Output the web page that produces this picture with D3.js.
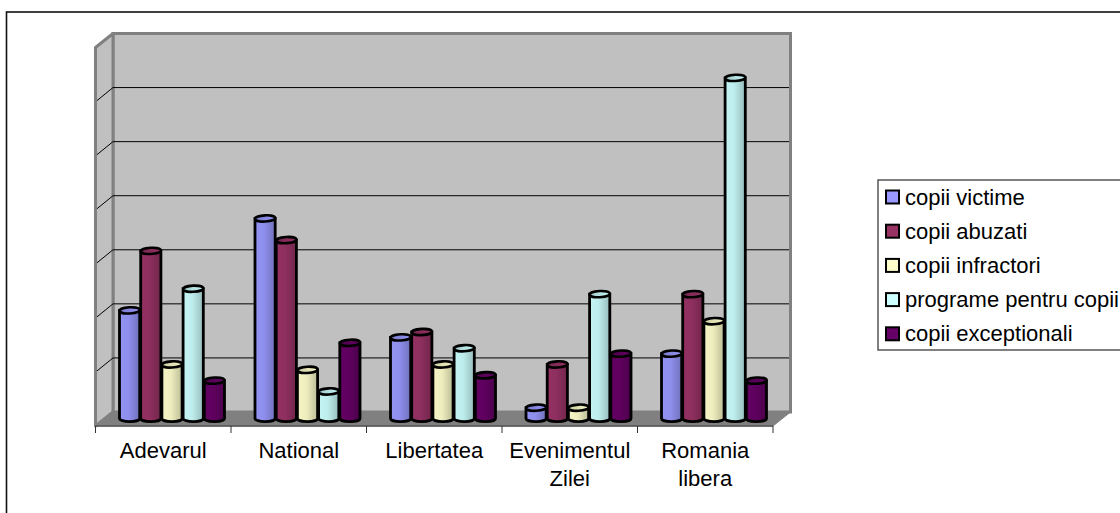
<!DOCTYPE html>
<html>
<head>
<meta charset="utf-8">
<script src="https://cdn.jsdelivr.net/npm/d3@7"></script>
<style>
html, body { margin: 0; padding: 0; background: #fff; overflow: hidden; }
text { font-family: "Liberation Sans", Arial, sans-serif; fill: #000; }
</style>
</head>
<body>
<svg id="chart" width="1120" height="513"></svg>
<script>
const categories = [['Adevarul'], ['National'], ['Libertatea'], ['Evenimentul', 'Zilei'], ['Romania', 'libera']];
const seriesNames = ['copii victime', 'copii abuzati', 'copii infractori', 'programe pentru copii', 'copii exceptionali'];
const seriesColours = ['#9999ff', '#993366', '#ffffcc', '#ccffff', '#660066'];
const copiiVictime = [20, 37, 15, 2, 12];
const copiiAbuzati = [31, 33, 16, 10, 23];
const copiiInfractori = [10, 9, 10, 2, 18];
const programe = [24, 5, 13, 23, 63];
const copiiExceptionali = [7, 14, 8, 12, 7];
const seriesValues = [copiiVictime, copiiAbuzati, copiiInfractori, programe, copiiExceptionali];
const gridTicks = [0, 10, 20, 30, 40, 50, 60, 70];

const svg = d3.select('#chart');

// frame runs off the right and bottom of the picture
svg.append('rect').attr('x', 6.5).attr('y', 12).attr('width', 1200).attr('height', 600)
	.attr('fill', '#fff').attr('stroke', '#111').attr('stroke-width', 1.6);

const depthX = 17.5, depthY = 14;
const x = d3.scaleBand().domain(d3.range(categories.length)).range([95.5, 773]).paddingInner(0).paddingOuter(0);
const y = d3.scaleLinear().domain([0, 70]).range([412, 33.5]);
const left = x.range()[0], right = x.range()[1];
const backL = left + depthX, backR = right + depthX;
const wall = '#808080';

// gradients for the cylinders
const defs = svg.append('defs');
seriesColours.forEach((c, i) => {
	const g = defs.append('linearGradient').attr('id', 'cyl' + i);
	g.append('stop').attr('offset', '0%').attr('stop-color', d3.rgb(c).darker(0.12));
	g.append('stop').attr('offset', '45%').attr('stop-color', d3.rgb(c).darker(0.2));
	g.append('stop').attr('offset', '100%').attr('stop-color', d3.rgb(c).darker(0.85));
	const t = defs.append('linearGradient').attr('id', 'top' + i);
	t.append('stop').attr('offset', '0%').attr('stop-color', d3.rgb(c).darker(0.65));
	t.append('stop').attr('offset', '100%').attr('stop-color', d3.rgb(c).darker(0.1));
});

// back wall, side wall, floor
svg.append('rect').attr('x', backL).attr('y', y(70)).attr('width', backR - backL).attr('height', y(0) - y(70))
	.attr('fill', '#c0c0c0').attr('stroke', wall).attr('stroke-width', 3);
svg.append('path')
	.attr('d', `M${left},${y(70) + depthY}L${backL},${y(70)}L${backL},${y(0)}L${left},${y(0) + depthY}Z`)
	.attr('fill', '#c0c0c0').attr('stroke', wall).attr('stroke-width', 3).attr('stroke-linejoin', 'round');
svg.append('path')
	.attr('d', `M${left},${y(0) + depthY}L${backL},${y(0)}L${backR},${y(0)}L${right},${y(0) + depthY}Z`)
	.attr('fill', wall).attr('stroke', wall);

// gridlines on the back and side wall
const inner = gridTicks.slice(1, -1);
svg.append('g').selectAll('line').data(inner).join('line')
	.attr('x1', backL).attr('x2', backR - 1.5).attr('y1', d => y(d)).attr('y2', d => y(d))
	.attr('stroke', '#000').attr('stroke-width', 1);
svg.append('g').selectAll('line').data(inner).join('line')
	.attr('x1', left + 1.5).attr('x2', backL).attr('y1', d => y(d) + depthY - 1).attr('y2', d => y(d))
	.attr('stroke', '#000').attr('stroke-width', 1);

// category axis
const axisY = y(0) + depthY;
svg.append('line').attr('x1', left).attr('x2', right).attr('y1', axisY).attr('y2', axisY)
	.attr('stroke', '#555').attr('stroke-width', 1.5);
svg.append('g').selectAll('line').data(d3.range(categories.length + 1)).join('line')
	.attr('x1', d => left + d * x.step()).attr('x2', d => left + d * x.step())
	.attr('y1', axisY).attr('y2', axisY + 7)
	.attr('stroke', '#333').attr('stroke-width', 1);
const labels = svg.append('g').selectAll('text').data(categories).join('text')
	.attr('text-anchor', 'middle').style('font-size', '22px');
labels.selectAll('tspan').data((d, i) => d.map(s => ({ s, i }))).join('tspan')
	.attr('x', d => x(d.i) + x.bandwidth() / 2)
	.attr('y', (d, j) => 458 + j * 28)
	.text(d => d.s);

// cylinders, drawn series by series so the later ones overlap the earlier
const barW = 21.2, ry = 3.1;
const baseY = d => y(d) + depthY / 2 - 0.5;
const barX = d3.scaleBand().domain(d3.range(seriesNames.length)).range([-barW * 2.5, barW * 2.5]);
const gBars = svg.append('g');
categories.forEach((cat, ci) => {
	const cx = x(ci) + x.bandwidth() / 2 + depthX / 2;
	seriesValues.forEach((vals, si) => {
		const v = vals[ci];
		const x0 = cx + barX(si) + 0.5, w = barX.bandwidth() - 1;
		const yb = baseY(0), yt = baseY(v);
		gBars.append('path')
			.attr('d', `M${x0},${yt}L${x0},${yb}A${w / 2},${ry} 0 0 0 ${x0 + w},${yb}L${x0 + w},${yt}Z`)
			.attr('fill', `url(#cyl${si})`).attr('stroke', '#000').attr('stroke-width', 2.8);
		gBars.append('ellipse')
			.attr('cx', x0 + w / 2).attr('cy', yt).attr('rx', w / 2).attr('ry', ry)
			.attr('transform', `rotate(-3 ${x0 + w / 2} ${yt})`)
			.attr('fill', `url(#top${si})`).attr('stroke', '#000').attr('stroke-width', 2.6);
	});
});

// legend, clipped by the right edge like the picture
const legend = svg.append('g');
legend.append('rect').attr('x', 878).attr('y', 180).attr('width', 300).attr('height', 170)
	.attr('fill', '#fff').attr('stroke', '#555').attr('stroke-width', 1.5);
const item = legend.selectAll('g').data(seriesNames).join('g')
	.attr('transform', (d, i) => `translate(0,${197 + i * 34.2})`);
item.append('rect').attr('x', 886).attr('y', -6.5).attr('width', 13).attr('height', 13)
	.attr('fill', (d, i) => seriesColours[i]).attr('stroke', '#000').attr('stroke-width', 2);
item.append('text').attr('x', 905).attr('y', 7.5).style('font-size', '22px').text(d => d);
</script>
</body>
</html>
